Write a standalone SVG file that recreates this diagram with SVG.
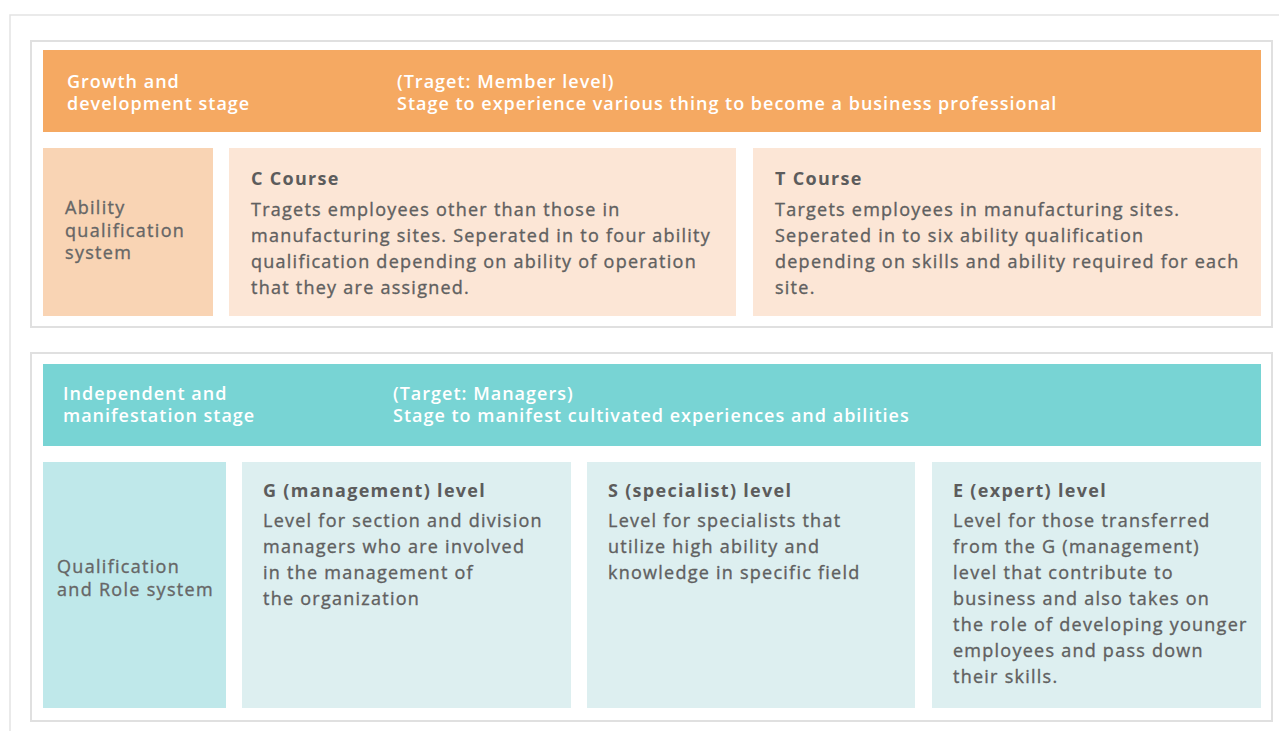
<svg xmlns="http://www.w3.org/2000/svg" width="1279" height="731" viewBox="0 0 1279 731">
<style>
.frame{fill:none;stroke:#e3e3e3;stroke-width:1.5}
.panel{fill:#fff;stroke:#e0e0e0;stroke-width:2}
.hd{font-family:"Open Sans","Liberation Sans",sans-serif;font-size:18px;font-weight:600;fill:#fff;letter-spacing:1px}
.lab{font-family:"Open Sans","Liberation Sans",sans-serif;font-size:18px;fill:#666;stroke:#666;stroke-width:0.35;letter-spacing:1.3px}
.ttl{font-family:"Open Sans","Liberation Sans",sans-serif;font-size:18px;font-weight:700;fill:#5c5c5c;letter-spacing:1.3px}
.bd{font-family:"Open Sans","Liberation Sans",sans-serif;font-size:18px;fill:#606060;stroke:#606060;stroke-width:0.35;letter-spacing:1.25px}
</style>
<rect width="1279" height="731" fill="#fff"/>
<path class="frame" d="M1279 15 H10 V731"/>
<g id="panel1">
<rect class="panel" x="31" y="41" width="1241" height="286"/>
</g>
<g id="growth-stage">
<rect x="43" y="50" width="1218" height="82" fill="#f5a962"/>
<text class="hd" x="67" y="88">Growth and</text>
<text class="hd" x="67" y="110">development stage</text>
<text class="hd" x="397" y="88">(Traget: Member level)</text>
<text class="hd" x="397" y="110">Stage to experience various thing to become a business professional</text>
</g>
<g id="ability-system">
<rect x="43" y="148" width="170" height="168" fill="#f9d4b4"/>
<text class="lab" x="65" y="214">Ability</text>
<text class="lab" x="65" y="237">qualification</text>
<text class="lab" x="65" y="259">system</text>
</g>
<g id="c-course">
<rect x="229" y="148" width="507" height="168" fill="#fce6d6"/>
<text class="ttl" x="251" y="185">C Course</text>
<text class="bd" x="251" y="216">Tragets employees other than those in</text>
<text class="bd" x="251" y="242">manufacturing sites. Seperated in to four ability</text>
<text class="bd" x="251" y="268">qualification depending on ability of operation</text>
<text class="bd" x="251" y="294">that they are assigned.</text>
</g>
<g id="t-course">
<rect x="753" y="148" width="508" height="168" fill="#fce6d6"/>
<text class="ttl" x="775" y="185">T Course</text>
<text class="bd" x="775" y="216">Targets employees in manufacturing sites.</text>
<text class="bd" x="775" y="242">Seperated in to six ability qualification</text>
<text class="bd" x="775" y="268">depending on skills and ability required for each</text>
<text class="bd" x="775" y="294">site.</text>
</g>
<g id="panel2">
<rect class="panel" x="31" y="353" width="1241" height="368"/>
</g>
<g id="independent-stage">
<rect x="43" y="364" width="1218" height="82" fill="#78d4d4"/>
<text class="hd" x="63" y="400">Independent and</text>
<text class="hd" x="63" y="422">manifestation stage</text>
<text class="hd" x="393" y="400">(Target: Managers)</text>
<text class="hd" x="393" y="422">Stage to manifest cultivated experiences and abilities</text>
</g>
<g id="role-system">
<rect x="43" y="462" width="183" height="246" fill="#bfe8ea"/>
<text class="lab" x="57" y="573">Qualification</text>
<text class="lab" x="57" y="596">and Role system</text>
</g>
<g id="g-level">
<rect x="242" y="462" width="329" height="246" fill="#ddeff0"/>
<text class="ttl" x="263" y="497">G (management) level</text>
<text class="bd" x="263" y="527">Level for section and division</text>
<text class="bd" x="263" y="553">managers who are involved</text>
<text class="bd" x="263" y="579">in the management of</text>
<text class="bd" x="263" y="605">the organization</text>
</g>
<g id="s-level">
<rect x="587" y="462" width="328" height="246" fill="#ddeff0"/>
<text class="ttl" x="608" y="497">S (specialist) level</text>
<text class="bd" x="608" y="527">Level for specialists that</text>
<text class="bd" x="608" y="553">utilize high ability and</text>
<text class="bd" x="608" y="579">knowledge in specific field</text>
</g>
<g id="e-level">
<rect x="932" y="462" width="329" height="246" fill="#ddeff0"/>
<text class="ttl" x="953" y="497">E (expert) level</text>
<text class="bd" x="953" y="527">Level for those transferred</text>
<text class="bd" x="953" y="553">from the G (management)</text>
<text class="bd" x="953" y="579">level that contribute to</text>
<text class="bd" x="953" y="605">business and also takes on</text>
<text class="bd" x="953" y="631">the role of developing younger</text>
<text class="bd" x="953" y="657">employees and pass down</text>
<text class="bd" x="953" y="683">their skills.</text>
</g>
<g id="connectors"></g>
</svg>
